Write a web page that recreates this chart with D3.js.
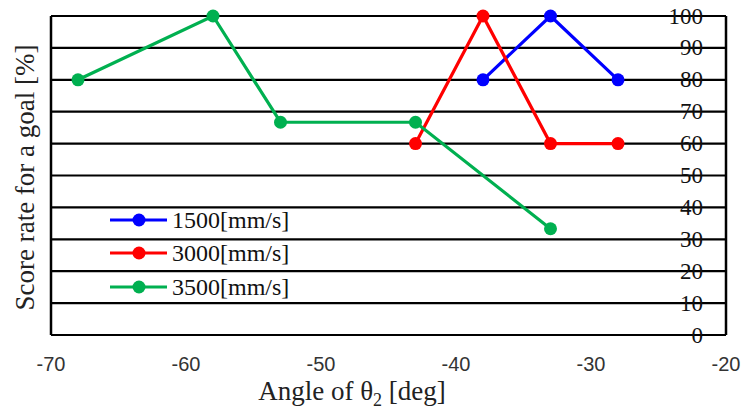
<!DOCTYPE html>
<html><head><meta charset="utf-8">
<script src="https://cdn.jsdelivr.net/npm/d3@7"></script>
<style>body{margin:0;background:#fff}svg{display:block}</style>
</head><body>
<script>
const xTicks = [-70, -60, -50, -40, -30, -20];
const yTicks = [0, 10, 20, 30, 40, 50, 60, 70, 80, 90, 100];
const seriesNames = ["1500[mm/s]", "3000[mm/s]", "3500[mm/s]"];
const seriesColors = ["#0000ff", "#ff0000", "#00b050"];
const s1500x = [-38, -33, -28];
const s1500y = [80, 100, 80];
const s3000x = [-43, -38, -33, -28];
const s3000y = [60, 100, 60, 60];
const s3500x = [-68, -58, -53, -43, -33];
const s3500y = [80, 100, 66.7, 66.7, 33.3];

const W = 746, H = 414;
const m = {l: 51, r: 20, t: 16, b: 79};
const FF = '"Liberation Serif"';
const FS = '"Liberation Sans"';
const svg = d3.select("body").append("svg").attr("width", W).attr("height", H);
const x = d3.scaleLinear().domain([-70, -20]).range([m.l, W - m.r]);
const y = d3.scaleLinear().domain([0, 100]).range([H - m.b, m.t]);

svg.append("g").selectAll("line").data(yTicks).join("line")
  .attr("x1", x(-70)).attr("x2", x(-20)).attr("y1", d => y(d)).attr("y2", d => y(d))
  .attr("stroke", "#000").attr("stroke-width", 2.2);
svg.append("line").attr("x1", x(-70)).attr("x2", x(-70)).attr("y1", y(0)).attr("y2", y(100)).attr("stroke", "#000").attr("stroke-width", 2.5);
svg.append("line").attr("x1", x(-20)).attr("x2", x(-20)).attr("y1", y(0)).attr("y2", y(100)).attr("stroke", "#000").attr("stroke-width", 2.5);

svg.append("g").selectAll("text").data(yTicks).join("text")
  .attr("x", x(-20) - 23).attr("y", d => y(d)).attr("dy", "0.33em")
  .attr("text-anchor", "end").attr("font-size", 23).style("font-family", FF)
  .attr("fill", "#111").text(d => d);

svg.append("g").selectAll("text").data(xTicks).join("text")
  .attr("x", d => x(d)).attr("y", 371)
  .attr("text-anchor", "middle").attr("font-size", 20).style("font-family", FS)
  .attr("fill", "#333").text(d => d);

const series = [
  {xs: s1500x, ys: s1500y},
  {xs: s3000x, ys: s3000y},
  {xs: s3500x, ys: s3500y}
];
const line = d3.line().x(d => x(d[0])).y(d => y(d[1]));
series.forEach((s, i) => {
  const pts = s.xs.map((v, j) => [v, s.ys[j]]);
  const g = svg.append("g");
  g.append("path").attr("d", line(pts)).attr("fill", "none")
    .attr("stroke", seriesColors[i]).attr("stroke-width", 3.2);
  g.selectAll("circle").data(pts).join("circle")
    .attr("cx", d => x(d[0])).attr("cy", d => y(d[1])).attr("r", 6.5)
    .attr("fill", seriesColors[i]);
});

const legY = [220, 253, 287];
seriesNames.forEach((n, i) => {
  const g = svg.append("g");
  g.append("line").attr("x1", 110).attr("x2", 167).attr("y1", legY[i]).attr("y2", legY[i])
    .attr("stroke", seriesColors[i]).attr("stroke-width", 3.2);
  g.append("circle").attr("cx", 139).attr("cy", legY[i]).attr("r", 6.5).attr("fill", seriesColors[i]);
  g.append("text").attr("x", 172).attr("y", legY[i]).attr("dy", "0.34em")
    .attr("font-size", 24).style("font-family", FF).attr("fill", "#111").text(n);
});

const xt = svg.append("text").attr("x", 352).attr("y", 400).attr("text-anchor", "middle")
  .attr("font-size", 27).style("font-family", FF).attr("fill", "#222");
xt.append("tspan").text("Angle of θ");
xt.append("tspan").attr("font-size", 18).attr("dy", 6).text("2");
xt.append("tspan").attr("dy", -6).text(" [deg]");

svg.append("text").attr("transform", `translate(34,177.5) rotate(-90)`)
  .attr("text-anchor", "middle").attr("font-size", 27).style("font-family", FF)
  .attr("fill", "#222").text("Score rate for a goal [%]");
</script>
</body></html>
